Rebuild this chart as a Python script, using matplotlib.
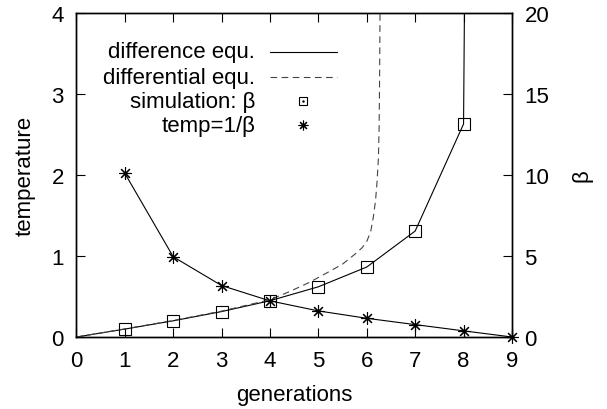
import matplotlib
matplotlib.use('Agg')
import matplotlib.pyplot as plt
from matplotlib.lines import Line2D

plt.rcParams['font.family'] = ['Liberation Sans', 'DejaVu Sans']

# ---- data ----
gens = [0, 1, 2, 3, 4, 5, 6, 7, 8, 9]
beta_diff = [0, 0.49, 1.0, 1.57, 2.24, 3.1, 4.32, 6.54, 13.15, 400]

sim_gens = [1, 2, 3, 4, 5, 6, 7, 8]
sim_beta = [0.49, 1.0, 1.57, 2.24, 3.1, 4.32, 6.54, 13.15]

temp_gens = [1, 2, 3, 4, 5, 6, 7, 8, 9]
temp_vals = [2.02, 0.99, 0.635, 0.446, 0.322, 0.231, 0.153, 0.076, 0.0]

ode_gens = [0, 1, 2, 3, 4, 4.4, 4.8, 5.2, 5.5, 5.75, 5.9, 6.0, 6.08, 6.13,
            6.18, 6.21, 6.24, 6.255, 6.265, 6.275]
ode_beta = [0, 0.5, 1.02, 1.6, 2.3, 2.8, 3.35, 4.0, 4.5, 5.1, 5.5, 5.9, 6.5,
            7.3, 8.4, 9.5, 11.0, 13.0, 16.0, 21.0]

x_ticks = [0, 1, 2, 3, 4, 5, 6, 7, 8, 9]
temp_ticks = [0, 1, 2, 3, 4]
beta_ticks = [0, 5, 10, 15, 20]

legend_labels = ["difference equ.", "differential equ.", "simulation: \u03b2", "temp=1/\u03b2"]

FS = 16
LW = 0.8

fig = plt.figure(figsize=(6.07, 4.10), dpi=100)
ax = fig.add_axes([0.126, 0.1756, 0.7174, 0.7903])
ax2 = ax.twinx()

# temperature (left axis)
ax.plot(temp_gens, temp_vals, color='black', lw=LW, marker=(8, 2, 0),
        markersize=9, markeredgewidth=LW, clip_on=False, zorder=3)

# beta (right axis)
ax2.plot(gens, beta_diff, color='black', lw=LW, zorder=2)
ax2.plot(ode_gens, ode_beta, color='#444444', lw=LW, dashes=(6, 4), zorder=2)
ax2.plot(sim_gens, sim_beta, linestyle='none', marker='s', markersize=8,
         markerfacecolor='none', markeredgecolor='black', markeredgewidth=LW, zorder=3)

ax.set_xlim(0, 9)
ax.set_ylim(0, 4)
ax2.set_ylim(0, 20)
ax.set_xticks(x_ticks)
ax.set_yticks(temp_ticks)
ax2.set_yticks(beta_ticks)

for a in (ax, ax2):
    for s in a.spines.values():
        s.set_linewidth(1.0)

ax.tick_params(axis='x', direction='in', top=True, bottom=True, length=6.5,
               width=0.8, pad=9, labelsize=FS)
ax.tick_params(axis='y', direction='in', left=True, right=False, length=6.5,
               width=0.8, pad=9, labelsize=FS)
ax2.tick_params(axis='y', direction='in', left=False, right=True, length=6.5,
                width=0.8, pad=9, labelsize=FS)

fig.text(0.5 * (0.126 + 0.8435), 1 - 396 / 410, "generations", ha='center', va='center', fontsize=FS)
fig.text(25 / 607, 1 - 176 / 410, "temperature", ha='center', va='center', rotation=90, fontsize=FS)
fig.text(582 / 607, 1 - 176 / 410, "\u03b2", ha='center', va='center', rotation=90, fontsize=FS)

# manual legend (gnuplot style: text right-aligned, sample to the right)
rows = [0.880, 0.802, 0.728, 0.654]
tx = 0.41
lx0, lx1, mx = 0.444, 0.598, 0.52
T = ax2.transAxes
for y, lab in zip(rows, legend_labels):
    ax2.text(tx, y, lab, transform=T, ha='right', va='center', fontsize=FS)
ax2.add_line(Line2D([lx0, lx1], [rows[0], rows[0]], transform=T, color='black', lw=LW))
ax2.add_line(Line2D([lx0, lx1], [rows[1], rows[1]], transform=T, color='#444444', lw=LW, dashes=(6, 4)))
ax2.add_line(Line2D([mx], [rows[2]], transform=T, marker='s', markersize=5.5,
                    markerfacecolor='none', markeredgecolor='black', markeredgewidth=LW, linestyle='none'))
ax2.add_line(Line2D([mx], [rows[2]], transform=T, marker='.', markersize=1.5,
                    color='black', linestyle='none'))
ax2.add_line(Line2D([mx], [rows[3]], transform=T, marker=(8, 2, 0), markersize=7,
                    markeredgecolor='black', markeredgewidth=LW, linestyle='none'))

fig.savefig('out.png', dpi=100)
